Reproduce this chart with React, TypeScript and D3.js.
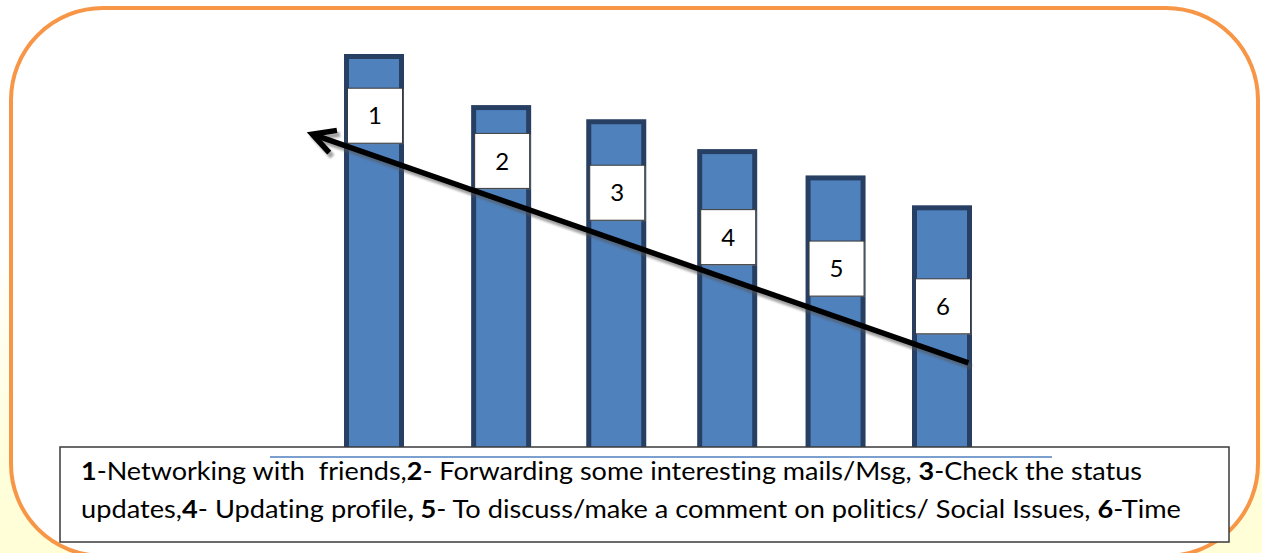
import React from "react";
import * as d3 from "d3";

// ---- data ----
const categories = ["1", "2", "3", "4", "5", "6"];
const barValues = [100, 87.0, 83.4, 75.8, 69.1, 61.5];
const labelValues = [84.3, 72.8, 64.7, 53.4, 45.4, 35.8];
// trend arrow (from category index / value to index / value)
const trendFrom = { i: 5.25, v: 21.4 };
const trendTo = { i: -0.46, v: 79.6 };

type Part = { t: string; b?: boolean };
const legendLine1: Part[] = [
  { t: "1", b: true },
  { t: "-Networking with  friends," },
  { t: "2", b: true },
  { t: "- Forwarding some interesting mails/Msg, " },
  { t: "3", b: true },
  { t: "-Check the status" },
];
const legendLine2: Part[] = [
  { t: "updates," },
  { t: "4", b: true },
  { t: "- Updating profile" },
  { t: ", 5", b: true },
  { t: "- To discuss/make a comment on politics/ Social Issues, " },
  { t: "6", b: true },
  { t: "-Time" },
];

const W = 1262;
const H = 553;

export default function App() {
  const x = d3.scalePow().exponent(0.93).domain([0, 5]).range([374, 942]);
  const y = d3.scaleLinear().domain([0, 100]).range([447, 54]);
  const barW = 60;
  const border = 5;
  const boxS = 55;

  const tipX = x(trendTo.i);
  const tipY = y(trendTo.v);
  const fromX = x(trendFrom.i);
  const fromY = y(trendFrom.v);
  const ang = Math.atan2(fromY - tipY, fromX - tipX);
  const headLen = 25;
  const half = (28 * Math.PI) / 180;
  const arm1: [number, number] = [tipX + headLen * Math.cos(ang - half), tipY + headLen * Math.sin(ang - half)];
  const arm2: [number, number] = [tipX + headLen * Math.cos(ang + half), tipY + headLen * Math.sin(ang + half)];
  const line = d3.line();
  const shaftPath = line([[fromX, fromY], [tipX + 2 * Math.cos(ang), tipY + 2 * Math.sin(ang)]]) || "";
  const headPath = line([arm1, [tipX, tipY], arm2]) || "";

  const font = "Lato, 'Open Sans', sans-serif";

  const renderParts = (parts: Part[]) =>
    parts.map((p, k) => (
      <tspan key={k} fontWeight={p.b ? 700 : 400}>
        {p.t}
      </tspan>
    ));

  return (
    <svg
      width={W}
      height={H}
      viewBox={`0 0 ${W} ${H}`}
      style={{ position: "absolute", left: 0, top: 0, display: "block" }}
    >
      <defs>
        <linearGradient id="bg" x1="0" y1="0" x2="0" y2="1">
          <stop offset="0" stopColor="#ffffff" />
          <stop offset="0.45" stopColor="#ffffff" />
          <stop offset="0.8" stopColor="#fffedd" />
          <stop offset="1" stopColor="#fffed6" />
        </linearGradient>
        <filter id="blur" x="-10%" y="-10%" width="120%" height="120%">
          <feGaussianBlur stdDeviation="1.2" />
        </filter>
      </defs>
      <rect x={0} y={0} width={W} height={H} fill="url(#bg)" />
      <rect x={11} y={8} width={1247} height={548} rx={92} ry={92} fill="#ffffff" stroke="#f79646" strokeWidth={4} />

      {/* bars */}
      {categories.map((c, i) => {
        const cx = x(i);
        const top = y(barValues[i]);
        return (
          <rect
            key={"bar" + c}
            x={cx - barW / 2 + border / 2}
            y={top + border / 2}
            width={barW - border}
            height={y(0) - top}
            fill="#4f81bd"
            stroke="#263f63"
            strokeWidth={border}
          />
        );
      })}

      {/* label boxes */}
      {categories.map((c, i) => {
        const cx = x(i) + 1;
        const cy = y(labelValues[i]);
        return (
          <g key={"lab" + c}>
            <rect x={cx - boxS / 2 + 1} y={cy - boxS / 2 + 1} width={boxS} height={boxS} fill="#8a8a8a" opacity={0.6} />
            <rect x={cx - boxS / 2} y={cy - boxS / 2} width={boxS} height={boxS} fill="#ffffff" stroke="#3a3a3a" strokeWidth={1} />
            <text x={cx} y={cy} dy="0.36em" textAnchor="middle" fontFamily={font} fontSize={24} fill="#000">
              {c}
            </text>
          </g>
        );
      })}

      {/* trend arrow */}
      <g transform="translate(3,4)" filter="url(#blur)" opacity={0.55}>
        <path d={shaftPath} stroke="#555" strokeWidth={5.5} fill="none" />
        <path d={headPath} stroke="#555" strokeWidth={5.5} fill="none" strokeLinejoin="miter" />
      </g>
      <path d={shaftPath} stroke="#000" strokeWidth={5.5} fill="none" />
      <path d={headPath} stroke="#000" strokeWidth={5.5} fill="none" strokeLinejoin="miter" strokeLinecap="butt" />

      {/* legend box */}
      <rect x={60} y={447} width={1169} height={95} fill="#ffffff" stroke="#3a3a3a" strokeWidth={1.5} />
      <line x1={270} x2={1052} y1={457} y2={457} stroke="#4f81bd" strokeWidth={1.5} />
      <text
        x={81}
        y={480}
        fontFamily={font}
        fontSize={25}
        fill="#000"
        textLength={1061}
        lengthAdjust="spacingAndGlyphs"
        style={{ whiteSpace: "pre", fontVariantLigatures: "none" }}
      >
        {renderParts(legendLine1)}
      </text>
      <text
        x={81}
        y={518}
        fontFamily={font}
        fontSize={25}
        fill="#000"
        textLength={1100}
        lengthAdjust="spacingAndGlyphs"
        style={{ whiteSpace: "pre", fontVariantLigatures: "none" }}
      >
        {renderParts(legendLine2)}
      </text>
    </svg>
  );
}
